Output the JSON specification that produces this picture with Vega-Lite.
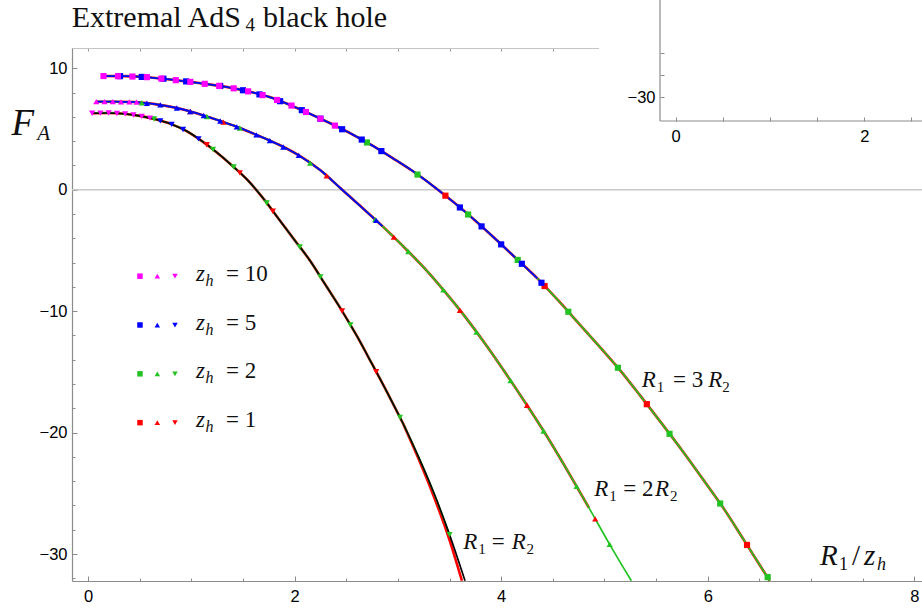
{
  "$schema": "https://vega.github.io/schema/vega-lite/v6.json",
  "width": 850,
  "height": 533,
  "autosize": "none",
  "padding": {"left": 72, "top": 48, "right": 0, "bottom": 27},
  "background": "white",
  "config": {
    "view": {"stroke": null},
    "axis": {
      "grid": false,
      "labelFont": "Liberation Sans",
      "labelFontSize": 16.5,
      "labelColor": "#000",
      "domainColor": "#8c8c8c",
      "tickColor": "#8c8c8c",
      "domainWidth": 1.2,
      "tickWidth": 1,
      "labelOverlap": false,
      "labelFlush": false
    }
  },
  "datasets": {
    "edges": [{"x": -0.155, "F": 0}, {"x": 8.074, "F": 0}],
    "curves": [
      {"c": "A", "x": 0.04, "F": 6.3}, {"c": "A", "x": 0.2, "F": 6.32}, {"c": "A", "x": 0.35, "F": 6.25},
      {"c": "A", "x": 0.5, "F": 6.08}, {"c": "A", "x": 0.65, "F": 5.8}, {"c": "A", "x": 0.8, "F": 5.42},
      {"c": "A", "x": 0.95, "F": 4.85}, {"c": "A", "x": 1.1, "F": 4.02}, {"c": "A", "x": 1.25, "F": 3.05},
      {"c": "A", "x": 1.4, "F": 1.95}, {"c": "A", "x": 1.55, "F": 0.75}, {"c": "A", "x": 1.7, "F": -0.75},
      {"c": "A", "x": 1.85, "F": -2.45}, {"c": "A", "x": 2.0, "F": -4.15}, {"c": "A", "x": 2.15, "F": -5.85},
      {"c": "A", "x": 2.3, "F": -7.85}, {"c": "A", "x": 2.45, "F": -9.85}, {"c": "A", "x": 2.6, "F": -12.0},
      {"c": "A", "x": 2.75, "F": -14.35}, {"c": "A", "x": 2.9, "F": -16.75}, {"c": "A", "x": 3.05, "F": -19.25},
      {"c": "A", "x": 3.2, "F": -22.0}, {"c": "A", "x": 3.35, "F": -25.0}, {"c": "A", "x": 3.5, "F": -28.4},
      {"c": "A", "x": 3.65, "F": -32.2},
      {"c": "A2", "x": 3.05, "F": -19.25}, {"c": "A2", "x": 3.2, "F": -22.15}, {"c": "A2", "x": 3.35, "F": -25.3},
      {"c": "A2", "x": 3.5, "F": -28.85}, {"c": "A2", "x": 3.62, "F": -32.2},
      {"c": "B", "x": 0.08, "F": 7.25}, {"c": "B", "x": 0.25, "F": 7.25}, {"c": "B", "x": 0.45, "F": 7.22},
      {"c": "B", "x": 0.65, "F": 7.05}, {"c": "B", "x": 0.85, "F": 6.75}, {"c": "B", "x": 1.05, "F": 6.3},
      {"c": "B", "x": 1.25, "F": 5.75}, {"c": "B", "x": 1.45, "F": 5.15}, {"c": "B", "x": 1.65, "F": 4.45},
      {"c": "B", "x": 1.85, "F": 3.7}, {"c": "B", "x": 2.05, "F": 2.78}, {"c": "B", "x": 2.25, "F": 1.6},
      {"c": "B", "x": 2.45, "F": 0.08}, {"c": "B", "x": 2.65, "F": -1.45}, {"c": "B", "x": 2.85, "F": -3.0},
      {"c": "B", "x": 3.05, "F": -4.65}, {"c": "B", "x": 3.25, "F": -6.4}, {"c": "B", "x": 3.45, "F": -8.35},
      {"c": "B", "x": 3.65, "F": -10.45}, {"c": "B", "x": 3.85, "F": -12.75}, {"c": "B", "x": 4.05, "F": -15.2},
      {"c": "B", "x": 4.25, "F": -17.75}, {"c": "B", "x": 4.45, "F": -20.4}, {"c": "B", "x": 4.65, "F": -23.25},
      {"c": "B", "x": 4.85, "F": -26.2}, {"c": "B", "x": 5.05, "F": -29.2}, {"c": "B", "x": 5.26, "F": -32.2},
      {"c": "C", "x": 0.15, "F": 9.36}, {"c": "C", "x": 0.35, "F": 9.35}, {"c": "C", "x": 0.55, "F": 9.28},
      {"c": "C", "x": 0.75, "F": 9.12}, {"c": "C", "x": 0.95, "F": 8.92}, {"c": "C", "x": 1.15, "F": 8.7},
      {"c": "C", "x": 1.35, "F": 8.45}, {"c": "C", "x": 1.55, "F": 8.1}, {"c": "C", "x": 1.75, "F": 7.65},
      {"c": "C", "x": 1.95, "F": 7.0}, {"c": "C", "x": 2.15, "F": 6.25}, {"c": "C", "x": 2.35, "F": 5.45},
      {"c": "C", "x": 2.55, "F": 4.6}, {"c": "C", "x": 2.75, "F": 3.65}, {"c": "C", "x": 2.95, "F": 2.6},
      {"c": "C", "x": 3.15, "F": 1.5}, {"c": "C", "x": 3.35, "F": 0.25}, {"c": "C", "x": 3.55, "F": -1.1},
      {"c": "C", "x": 3.75, "F": -2.55}, {"c": "C", "x": 3.95, "F": -4.1}, {"c": "C", "x": 4.15, "F": -5.7},
      {"c": "C", "x": 4.35, "F": -7.3}, {"c": "C", "x": 4.55, "F": -9.1}, {"c": "C", "x": 4.75, "F": -11.0},
      {"c": "C", "x": 4.95, "F": -12.9}, {"c": "C", "x": 5.15, "F": -14.85}, {"c": "C", "x": 5.35, "F": -17.0},
      {"c": "C", "x": 5.55, "F": -19.2}, {"c": "C", "x": 5.75, "F": -21.45}, {"c": "C", "x": 5.95, "F": -23.8},
      {"c": "C", "x": 6.15, "F": -26.2}, {"c": "C", "x": 6.35, "F": -28.85}, {"c": "C", "x": 6.6, "F": -32.2}
    ],
    "points": [
      {"fam": "A", "zh": "1", "x": 1.15, "F": 3.7}, {"fam": "A", "zh": "1", "x": 1.47, "F": 1.39},
      {"fam": "A", "zh": "1", "x": 1.79, "F": -1.77}, {"fam": "A", "zh": "1", "x": 2.46, "F": -9.99},
      {"fam": "A", "zh": "1", "x": 2.79, "F": -14.99},
      {"fam": "B", "zh": "1", "x": 0.99, "F": 6.44}, {"fam": "B", "zh": "1", "x": 1.31, "F": 5.57},
      {"fam": "B", "zh": "1", "x": 2.31, "F": 1.14}, {"fam": "B", "zh": "1", "x": 2.96, "F": -3.91},
      {"fam": "B", "zh": "1", "x": 3.6, "F": -9.93}, {"fam": "B", "zh": "1", "x": 4.25, "F": -17.75},
      {"fam": "B", "zh": "1", "x": 4.91, "F": -27.1},
      {"fam": "C", "zh": "1", "x": 3.46, "F": -0.49}, {"fam": "C", "zh": "1", "x": 4.42, "F": -7.93},
      {"fam": "C", "zh": "1", "x": 5.41, "F": -17.66}, {"fam": "C", "zh": "1", "x": 6.38, "F": -29.25},
      {"fam": "A", "zh": "2", "x": 0.64, "F": 5.82}, {"fam": "A", "zh": "2", "x": 1.21, "F": 3.31},
      {"fam": "A", "zh": "2", "x": 1.41, "F": 1.87}, {"fam": "A", "zh": "2", "x": 1.73, "F": -1.09},
      {"fam": "A", "zh": "2", "x": 2.05, "F": -4.72}, {"fam": "A", "zh": "2", "x": 2.25, "F": -7.18},
      {"fam": "A", "zh": "2", "x": 2.54, "F": -11.14}, {"fam": "A", "zh": "2", "x": 3.02, "F": -18.75},
      {"fam": "A", "zh": "2", "x": 3.5, "F": -28.4},
      {"fam": "B", "zh": "2", "x": 0.52, "F": 7.16}, {"fam": "B", "zh": "2", "x": 1.15, "F": 6.03},
      {"fam": "B", "zh": "2", "x": 1.47, "F": 5.08}, {"fam": "B", "zh": "2", "x": 2.15, "F": 2.19},
      {"fam": "B", "zh": "2", "x": 2.78, "F": -2.46}, {"fam": "B", "zh": "2", "x": 3.1, "F": -5.09},
      {"fam": "B", "zh": "2", "x": 3.44, "F": -8.25}, {"fam": "B", "zh": "2", "x": 3.76, "F": -11.72},
      {"fam": "B", "zh": "2", "x": 4.09, "F": -15.71}, {"fam": "B", "zh": "2", "x": 4.41, "F": -19.87},
      {"fam": "B", "zh": "2", "x": 4.73, "F": -24.43}, {"fam": "B", "zh": "2", "x": 5.05, "F": -29.2},
      {"fam": "C", "zh": "2", "x": 2.7, "F": 3.89}, {"fam": "C", "zh": "2", "x": 3.19, "F": 1.25},
      {"fam": "C", "zh": "2", "x": 3.68, "F": -2.04}, {"fam": "C", "zh": "2", "x": 4.16, "F": -5.78},
      {"fam": "C", "zh": "2", "x": 4.65, "F": -10.05}, {"fam": "C", "zh": "2", "x": 5.13, "F": -14.66},
      {"fam": "C", "zh": "2", "x": 5.63, "F": -20.1}, {"fam": "C", "zh": "2", "x": 6.12, "F": -25.84},
      {"fam": "C", "zh": "2", "x": 6.58, "F": -31.9},
      {"fam": "A", "zh": "5", "x": 0.7, "F": 5.67}, {"fam": "A", "zh": "5", "x": 0.81, "F": 5.38},
      {"fam": "A", "zh": "5", "x": 0.92, "F": 4.96}, {"fam": "A", "zh": "5", "x": 1.07, "F": 4.19},
      {"fam": "B", "zh": "5", "x": 0.57, "F": 7.12}, {"fam": "B", "zh": "5", "x": 0.7, "F": 6.98},
      {"fam": "B", "zh": "5", "x": 0.86, "F": 6.73}, {"fam": "B", "zh": "5", "x": 0.99, "F": 6.44},
      {"fam": "B", "zh": "5", "x": 1.12, "F": 6.11}, {"fam": "B", "zh": "5", "x": 1.28, "F": 5.66},
      {"fam": "B", "zh": "5", "x": 1.44, "F": 5.18}, {"fam": "B", "zh": "5", "x": 1.63, "F": 4.52},
      {"fam": "B", "zh": "5", "x": 1.76, "F": 4.04}, {"fam": "B", "zh": "5", "x": 1.89, "F": 3.52},
      {"fam": "B", "zh": "5", "x": 2.04, "F": 2.83}, {"fam": "B", "zh": "5", "x": 2.79, "F": -2.53},
      {"fam": "C", "zh": "5", "x": 0.31, "F": 9.35}, {"fam": "C", "zh": "5", "x": 0.52, "F": 9.29},
      {"fam": "C", "zh": "5", "x": 0.73, "F": 9.14}, {"fam": "C", "zh": "5", "x": 0.95, "F": 8.92},
      {"fam": "C", "zh": "5", "x": 1.28, "F": 8.54}, {"fam": "C", "zh": "5", "x": 1.5, "F": 8.19},
      {"fam": "C", "zh": "5", "x": 1.66, "F": 7.85}, {"fam": "C", "zh": "5", "x": 1.86, "F": 7.29},
      {"fam": "C", "zh": "5", "x": 2.07, "F": 6.55}, {"fam": "C", "zh": "5", "x": 2.25, "F": 5.85},
      {"fam": "C", "zh": "5", "x": 2.46, "F": 4.98}, {"fam": "C", "zh": "5", "x": 2.65, "F": 4.13},
      {"fam": "C", "zh": "5", "x": 2.84, "F": 3.18}, {"fam": "C", "zh": "5", "x": 3.6, "F": -1.46},
      {"fam": "C", "zh": "5", "x": 3.81, "F": -3.02}, {"fam": "C", "zh": "5", "x": 4.0, "F": -4.5},
      {"fam": "C", "zh": "5", "x": 4.2, "F": -6.1}, {"fam": "C", "zh": "5", "x": 4.39, "F": -7.66},
      {"fam": "A", "zh": "10", "x": 0.04, "F": 6.3}, {"fam": "A", "zh": "10", "x": 0.12, "F": 6.31},
      {"fam": "A", "zh": "10", "x": 0.2, "F": 6.32}, {"fam": "A", "zh": "10", "x": 0.28, "F": 6.28},
      {"fam": "A", "zh": "10", "x": 0.36, "F": 6.24}, {"fam": "A", "zh": "10", "x": 0.44, "F": 6.15},
      {"fam": "A", "zh": "10", "x": 0.52, "F": 6.04}, {"fam": "A", "zh": "10", "x": 0.6, "F": 5.89},
      {"fam": "B", "zh": "10", "x": 0.08, "F": 7.25}, {"fam": "B", "zh": "10", "x": 0.16, "F": 7.25},
      {"fam": "B", "zh": "10", "x": 0.24, "F": 7.25}, {"fam": "B", "zh": "10", "x": 0.32, "F": 7.24},
      {"fam": "B", "zh": "10", "x": 0.4, "F": 7.23}, {"fam": "B", "zh": "10", "x": 0.47, "F": 7.21},
      {"fam": "C", "zh": "10", "x": 0.15, "F": 9.36}, {"fam": "C", "zh": "10", "x": 0.29, "F": 9.35},
      {"fam": "C", "zh": "10", "x": 0.43, "F": 9.32}, {"fam": "C", "zh": "10", "x": 0.57, "F": 9.27},
      {"fam": "C", "zh": "10", "x": 0.71, "F": 9.15}, {"fam": "C", "zh": "10", "x": 0.85, "F": 9.02},
      {"fam": "C", "zh": "10", "x": 0.99, "F": 8.88}, {"fam": "C", "zh": "10", "x": 1.13, "F": 8.72},
      {"fam": "C", "zh": "10", "x": 1.27, "F": 8.55}, {"fam": "C", "zh": "10", "x": 1.41, "F": 8.35},
      {"fam": "C", "zh": "10", "x": 1.55, "F": 8.1}, {"fam": "C", "zh": "10", "x": 1.69, "F": 7.79},
      {"fam": "C", "zh": "10", "x": 1.83, "F": 7.39}, {"fam": "C", "zh": "10", "x": 1.97, "F": 6.93},
      {"fam": "C", "zh": "10", "x": 2.11, "F": 6.4}, {"fam": "C", "zh": "10", "x": 2.25, "F": 5.85},
      {"fam": "C", "zh": "10", "x": 2.39, "F": 5.28}
    ],
    "legend": [
      {"fam": "C", "zh": "10", "x": 0.503, "F": -7.12}, {"fam": "B", "zh": "10", "x": 0.671, "F": -7.12}, {"fam": "A", "zh": "10", "x": 0.842, "F": -7.12},
      {"fam": "C", "zh": "5", "x": 0.503, "F": -11.14}, {"fam": "B", "zh": "5", "x": 0.671, "F": -11.14}, {"fam": "A", "zh": "5", "x": 0.842, "F": -11.14},
      {"fam": "C", "zh": "2", "x": 0.503, "F": -15.16}, {"fam": "B", "zh": "2", "x": 0.671, "F": -15.16}, {"fam": "A", "zh": "2", "x": 0.842, "F": -15.16},
      {"fam": "C", "zh": "1", "x": 0.503, "F": -19.18}, {"fam": "B", "zh": "1", "x": 0.671, "F": -19.18}, {"fam": "A", "zh": "1", "x": 0.842, "F": -19.18}
    ],
    "labels": [
      {"role": "title", "t": "Extremal AdS", "x": -0.158, "F": 13.375},
      {"role": "title", "t": "black hole", "x": 1.694, "F": 13.375},
      {"role": "titlesub", "t": "4", "x": 1.525, "F": 13.375},
      {"role": "var", "t": "R", "x": 5.36, "F": -16.28},
      {"role": "var", "t": "R", "x": 6.005, "F": -16.28},
      {"role": "var", "t": "R", "x": 4.9, "F": -25.21},
      {"role": "var", "t": "R", "x": 5.489, "F": -25.21},
      {"role": "var", "t": "R", "x": 3.633, "F": -29.62},
      {"role": "var", "t": "R", "x": 4.102, "F": -29.62},
      {"role": "var", "t": "z", "x": 1.045, "F": -7.5},
      {"role": "var", "t": "z", "x": 1.045, "F": -11.52},
      {"role": "var", "t": "z", "x": 1.045, "F": -15.54},
      {"role": "var", "t": "z", "x": 1.045, "F": -19.54},
      {"role": "op", "t": "= 3", "x": 5.664, "F": -16.28},
      {"role": "op", "t": "= 2", "x": 5.182, "F": -25.21},
      {"role": "op", "t": "=", "x": 3.908, "F": -29.62},
      {"role": "op", "t": "= 10", "x": 1.336, "F": -7.5},
      {"role": "op", "t": "= 5", "x": 1.336, "F": -11.52},
      {"role": "op", "t": "= 2", "x": 1.336, "F": -15.54},
      {"role": "op", "t": "= 1", "x": 1.336, "F": -19.54},
      {"role": "sub", "t": "1", "x": 5.505, "F": -16.28},
      {"role": "sub", "t": "2", "x": 6.14, "F": -16.28},
      {"role": "sub", "t": "1", "x": 5.047, "F": -25.21},
      {"role": "sub", "t": "2", "x": 5.634, "F": -25.21},
      {"role": "sub", "t": "1", "x": 3.778, "F": -29.62},
      {"role": "sub", "t": "2", "x": 4.246, "F": -29.62},
      {"role": "varsub", "t": "h", "x": 1.137, "F": -7.5},
      {"role": "varsub", "t": "h", "x": 1.137, "F": -11.52},
      {"role": "varsub", "t": "h", "x": 1.137, "F": -15.54},
      {"role": "varsub", "t": "h", "x": 1.137, "F": -19.54},
      {"role": "axisvar", "t": "R", "x": 7.086, "F": -30.92},
      {"role": "axisvar", "t": "z", "x": 7.512, "F": -30.92},
      {"role": "axisop", "t": "/", "x": 7.396, "F": -30.92},
      {"role": "axissub", "t": "1", "x": 7.27, "F": -30.92},
      {"role": "axisvarsub", "t": "h", "x": 7.638, "F": -30.92},
      {"role": "fvar", "t": "F", "x": -0.74, "F": 4.5},
      {"role": "fsub", "t": "A", "x": -0.491, "F": 4.09}
    ]
  },
  "layer": [
    {
      "data": {"name": "edges"},
      "mark": {"type": "line", "color": "#c8c8c8", "strokeWidth": 1.6},
      "encoding": {
        "x": {
          "field": "x", "type": "quantitative",
          "scale": {"domain": [-0.155, 8.074], "nice": false, "zero": false},
          "axis": {
            "orient": "top", "title": null, "labels": false,
            "values": [0, 0.5, 1, 1.5, 2, 2.5, 3, 3.5, 4, 4.5, 5, 5.5, 6, 6.5, 7, 7.5, 8],
            "tickSize": -3,
            "domainColor": "#c4c4c4", "tickColor": "#999"
          }
        },
        "y": {
          "field": "F", "type": "quantitative",
          "scale": {"domain": [-32.22, 11.67], "nice": false, "zero": false},
          "axis": null
        }
      }
    },
    {
      "data": {"name": "edges"},
      "mark": {"type": "line", "strokeOpacity": 0},
      "encoding": {
        "x": {
          "field": "x", "type": "quantitative",
          "scale": {"domain": [-0.155, 8.074], "nice": false, "zero": false},
          "axis": {
            "orient": "bottom", "title": null, "labels": false, "domain": false,
            "values": [0.5, 1, 1.5, 2.5, 3, 3.5, 4.5, 5, 5.5, 6.5, 7, 7.5],
            "tickSize": -3
          }
        },
        "y": {
          "field": "F", "type": "quantitative",
          "scale": {"domain": [-32.22, 11.67], "nice": false, "zero": false},
          "axis": {
            "orient": "left", "title": null, "labels": false, "domain": false,
            "values": [-32, -28, -26, -24, -22, -18, -16, -14, -12, -8, -6, -4, -2, 2, 4, 6, 8],
            "tickSize": -3
          }
        }
      }
    },
    {
      "layer": [
        {
          "data": {"name": "curves"},
          "transform": [{"filter": "(datum.c === 'A' && datum.x <= 3.05) || datum.c === 'A2' || (datum.c === 'B' && datum.x <= 4.91) || datum.c === 'C'"}],
          "mark": {"type": "line", "color": "#ff0000", "strokeWidth": 2.6, "interpolate": "monotone"},
          "encoding": {
            "x": {
              "field": "x", "type": "quantitative",
              "scale": {"domain": [-0.155, 8.074], "nice": false, "zero": false},
              "axis": {
                "orient": "bottom", "title": null, "format": "d",
                "values": [0, 2, 4, 6, 8],
                "tickSize": -5, "labelPadding": 12
              }
            },
            "y": {
              "field": "F", "type": "quantitative",
              "scale": {"domain": [-32.22, 11.67], "nice": false, "zero": false},
              "axis": {
                "orient": "left", "title": null, "format": "d",
                "values": [-30, -20, -10, 0, 10],
                "tickSize": -5, "labelPadding": 10
              }
            },
            "detail": {"field": "c"}
          }
        },
        {
          "data": {"name": "curves"},
          "transform": [{"filter": "(datum.c === 'A' && datum.x <= 3.5) || datum.c === 'B' || datum.c === 'C'"}],
          "mark": {"type": "line", "color": "#22c322", "strokeWidth": 1.7, "interpolate": "monotone"},
          "encoding": {
            "x": {"field": "x", "type": "quantitative"},
            "y": {"field": "F", "type": "quantitative"},
            "detail": {"field": "c"}
          }
        },
        {
          "data": {"name": "curves"},
          "transform": [{"filter": "(datum.c === 'B' && datum.x <= 2.85) || (datum.c === 'C' && datum.x <= 4.35)"}],
          "mark": {"type": "line", "color": "#0000ff", "strokeWidth": 1.8, "interpolate": "monotone"},
          "encoding": {
            "x": {"field": "x", "type": "quantitative"},
            "y": {"field": "F", "type": "quantitative"},
            "detail": {"field": "c"}
          }
        },
        {
          "data": {"name": "curves"},
          "transform": [{"filter": "datum.c === 'A'"}],
          "mark": {"type": "line", "color": "#000000", "strokeWidth": 1.6, "interpolate": "monotone"},
          "encoding": {
            "x": {"field": "x", "type": "quantitative"},
            "y": {"field": "F", "type": "quantitative"}
          }
        },
        {
          "data": {"name": "points"},
          "mark": {"type": "point", "filled": true, "size": 38, "opacity": 1, "strokeWidth": 0},
          "encoding": {
            "x": {"field": "x", "type": "quantitative"},
            "y": {"field": "F", "type": "quantitative"},
            "color": {
              "field": "zh", "type": "nominal",
              "scale": {"domain": ["10", "5", "2", "1"], "range": ["#ff00ff", "#0000ff", "#22c322", "#ff0000"]},
              "legend": null
            },
            "shape": {
              "field": "fam", "type": "nominal",
              "scale": {"domain": ["A", "B", "C"], "range": ["triangle-down", "triangle-up", "square"]},
              "legend": null
            }
          }
        },
        {
          "data": {"name": "legend"},
          "mark": {"type": "point", "filled": true, "size": 30, "opacity": 1, "strokeWidth": 0},
          "encoding": {
            "x": {"field": "x", "type": "quantitative"},
            "y": {"field": "F", "type": "quantitative"},
            "color": {"field": "zh", "type": "nominal", "legend": null},
            "shape": {"field": "fam", "type": "nominal", "legend": null}
          }
        },
        {
          "data": {"name": "labels"},
          "transform": [{"filter": "datum.role === 'title'"}],
          "mark": {"type": "text", "font": "Liberation Serif", "fontSize": 30, "align": "left", "baseline": "alphabetic", "color": "#111"},
          "encoding": {"x": {"field": "x", "type": "quantitative"}, "y": {"field": "F", "type": "quantitative"}, "text": {"field": "t"}}
        },
        {
          "data": {"name": "labels"},
          "transform": [{"filter": "datum.role === 'titlesub'"}],
          "mark": {"type": "text", "font": "Liberation Serif", "fontSize": 19, "align": "left", "baseline": "alphabetic", "dy": 4, "color": "#111"},
          "encoding": {"x": {"field": "x", "type": "quantitative"}, "y": {"field": "F", "type": "quantitative"}, "text": {"field": "t"}}
        },
        {
          "data": {"name": "labels"},
          "transform": [{"filter": "datum.role === 'var'"}],
          "mark": {"type": "text", "font": "Liberation Serif", "fontStyle": "italic", "fontSize": 23, "align": "left", "baseline": "alphabetic", "color": "#111"},
          "encoding": {"x": {"field": "x", "type": "quantitative"}, "y": {"field": "F", "type": "quantitative"}, "text": {"field": "t"}}
        },
        {
          "data": {"name": "labels"},
          "transform": [{"filter": "datum.role === 'op'"}],
          "mark": {"type": "text", "font": "Liberation Serif", "fontSize": 23, "align": "left", "baseline": "alphabetic", "color": "#111"},
          "encoding": {"x": {"field": "x", "type": "quantitative"}, "y": {"field": "F", "type": "quantitative"}, "text": {"field": "t"}}
        },
        {
          "data": {"name": "labels"},
          "transform": [{"filter": "datum.role === 'sub'"}],
          "mark": {"type": "text", "font": "Liberation Serif", "fontSize": 15, "align": "left", "baseline": "alphabetic", "dy": 5, "color": "#111"},
          "encoding": {"x": {"field": "x", "type": "quantitative"}, "y": {"field": "F", "type": "quantitative"}, "text": {"field": "t"}}
        },
        {
          "data": {"name": "labels"},
          "transform": [{"filter": "datum.role === 'varsub'"}],
          "mark": {"type": "text", "font": "Liberation Serif", "fontStyle": "italic", "fontSize": 16, "align": "left", "baseline": "alphabetic", "dy": 5, "color": "#111"},
          "encoding": {"x": {"field": "x", "type": "quantitative"}, "y": {"field": "F", "type": "quantitative"}, "text": {"field": "t"}}
        },
        {
          "data": {"name": "labels"},
          "transform": [{"filter": "datum.role === 'axisvar'"}],
          "mark": {"type": "text", "font": "Liberation Serif", "fontStyle": "italic", "fontSize": 29, "align": "left", "baseline": "alphabetic", "color": "#111"},
          "encoding": {"x": {"field": "x", "type": "quantitative"}, "y": {"field": "F", "type": "quantitative"}, "text": {"field": "t"}}
        },
        {
          "data": {"name": "labels"},
          "transform": [{"filter": "datum.role === 'axisop'"}],
          "mark": {"type": "text", "font": "Liberation Serif", "fontSize": 29, "align": "left", "baseline": "alphabetic", "color": "#111"},
          "encoding": {"x": {"field": "x", "type": "quantitative"}, "y": {"field": "F", "type": "quantitative"}, "text": {"field": "t"}}
        },
        {
          "data": {"name": "labels"},
          "transform": [{"filter": "datum.role === 'axissub'"}],
          "mark": {"type": "text", "font": "Liberation Serif", "fontSize": 18, "align": "left", "baseline": "alphabetic", "dy": 5, "color": "#111"},
          "encoding": {"x": {"field": "x", "type": "quantitative"}, "y": {"field": "F", "type": "quantitative"}, "text": {"field": "t"}}
        },
        {
          "data": {"name": "labels"},
          "transform": [{"filter": "datum.role === 'axisvarsub'"}],
          "mark": {"type": "text", "font": "Liberation Serif", "fontStyle": "italic", "fontSize": 18, "align": "left", "baseline": "alphabetic", "dy": 5, "color": "#111"},
          "encoding": {"x": {"field": "x", "type": "quantitative"}, "y": {"field": "F", "type": "quantitative"}, "text": {"field": "t"}}
        },
        {
          "data": {"name": "labels"},
          "transform": [{"filter": "datum.role === 'fvar'"}],
          "mark": {"type": "text", "font": "Liberation Serif", "fontStyle": "italic", "fontSize": 37, "align": "left", "baseline": "alphabetic", "color": "#111"},
          "encoding": {"x": {"field": "x", "type": "quantitative"}, "y": {"field": "F", "type": "quantitative"}, "text": {"field": "t"}}
        },
        {
          "data": {"name": "labels"},
          "transform": [{"filter": "datum.role === 'fsub'"}],
          "mark": {"type": "text", "font": "Liberation Serif", "fontStyle": "italic", "fontSize": 21, "align": "left", "baseline": "alphabetic", "color": "#111"},
          "encoding": {"x": {"field": "x", "type": "quantitative"}, "y": {"field": "F", "type": "quantitative"}, "text": {"field": "t"}}
        }
      ]
    },
    {
      "layer": [
        {
          "data": {"values": [{"x0": -0.813, "x1": 2.8, "v0": -33.8, "v1": -20}]},
          "mark": {"type": "rect", "color": "white", "clip": false},
          "encoding": {
            "x": {
              "field": "x0", "type": "quantitative",
              "scale": {"domain": [-6.402, 2.612], "nice": false, "zero": false},
              "axis": {
                "orient": "bottom", "offset": -460, "title": null, "domain": false, "zindex": 1,
                "values": [0, 0.5, 1, 1.5, 2, 2.5],
                "labelExpr": "datum.value % 2 === 0 ? format(datum.value, 'd') : ''",
                "tickSize": -4, "labelPadding": 11
              }
            },
            "x2": {"field": "x1"},
            "y": {
              "field": "v0", "type": "quantitative",
              "scale": {"domain": [-73.478, -25.568], "nice": false, "zero": false},
              "axis": {
                "orient": "left", "offset": -588, "title": null, "domain": false, "zindex": 1,
                "values": [-30, -28, -26],
                "labelExpr": "datum.value === -30 ? format(datum.value, 'd') : ''",
                "tickSize": -4, "labelPadding": 9
              }
            },
            "y2": {"field": "v1"}
          }
        },
        {
          "data": {"values": [{"x": -0.1665, "v0": -32.13, "v1": -20}]},
          "mark": {"type": "rule", "color": "#8c8c8c", "strokeWidth": 1.2, "clip": false},
          "encoding": {
            "x": {"field": "x", "type": "quantitative"},
            "y": {"field": "v0", "type": "quantitative"},
            "y2": {"field": "v1"}
          }
        },
        {
          "data": {"values": [{"x0": -0.1665, "x1": 2.8, "v": -32.13}]},
          "mark": {"type": "rule", "color": "#8c8c8c", "strokeWidth": 1.2, "clip": false},
          "encoding": {
            "x": {"field": "x0", "type": "quantitative"},
            "x2": {"field": "x1"},
            "y": {"field": "v", "type": "quantitative"}
          }
        }
      ]
    }
  ],
  "resolve": {
    "scale": {"x": "independent", "y": "independent"},
    "axis": {"x": "independent", "y": "independent"}
  }
}
